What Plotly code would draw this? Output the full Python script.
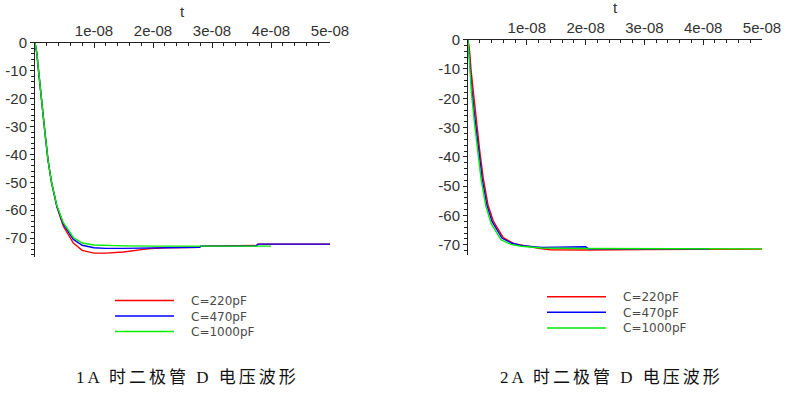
import plotly.graph_objects as go

W, H = 786, 394

# ---------------- data (time in ns, voltage in V) ----------------
# Panel 1: 1A
p1_red_t   = [0, 0.3, 0.6, 0.9, 1.2, 1.7, 2.2, 2.8, 3.7, 4.8, 6.5, 8, 10, 12, 15, 17, 19, 22, 25, 27.9, 28.1, 35, 37.5, 37.8, 45, 50]
p1_red_v   = [0, -3.5, -10, -15.5, -23, -32.5, -42, -50, -58.8, -65.8, -71.8, -74.4, -75.4, -75.4, -75.0, -74.4, -73.9, -73.5, -73.3, -73.3, -72.9, -72.8, -72.7, -72.2, -72.2, -72.2]
p1_blue_t  = [0, 0.3, 0.6, 0.9, 1.2, 1.7, 2.2, 2.8, 3.7, 4.8, 6.5, 8, 10, 12, 15, 19, 22, 27.9, 28.1, 37.5, 37.8, 50]
p1_blue_v  = [0, -3.5, -10, -15.5, -23, -32.5, -42, -50, -58.5, -65.0, -70.5, -72.6, -73.5, -73.7, -73.7, -73.5, -73.4, -73.3, -72.9, -72.8, -72.2, -72.2]
p1_green_t = [0, 0.3, 0.6, 0.9, 1.2, 1.7, 2.2, 2.8, 3.7, 4.8, 6.5, 8, 10, 12, 15, 20, 25, 30, 35, 40]
p1_green_v = [0, -3.5, -10, -15.5, -23, -32.5, -42, -50, -58.3, -64.5, -69.8, -71.8, -72.5, -72.7, -72.8, -72.9, -73.0, -72.9, -72.9, -72.9]

# Panel 2: 2A
p2_red_t   = [0, 0.25, 0.55, 0.9, 1.45, 2.0, 2.6, 3.4, 4.35, 6.0, 7.8, 9.4, 12, 14, 20, 30, 41, 50]
p2_red_v   = [0, -3.5, -11, -18, -28, -38, -47.3, -56.4, -62.1, -67.6, -69.6, -70.3, -71.2, -71.7, -71.8, -71.6, -71.5, -71.5]
p2_blue_t  = [0, 0.12, 0.4, 0.7, 1.25, 1.8, 2.4, 3.2, 4.1, 5.8, 7.5, 9.2, 12.6, 15, 20, 20.5, 30, 41]
p2_blue_v  = [0, -3, -11, -18, -28, -38, -47.3, -56.4, -62.1, -67.8, -69.5, -70.3, -70.9, -70.8, -70.7, -71.4, -71.4, -71.4]
p2_green_t = [0, 0.1, 0.35, 0.6, 1.1, 1.65, 2.25, 3.05, 3.95, 5.6, 7.3, 9, 12.5, 20, 30, 41, 50]
p2_green_v = [0, -3.5, -11.5, -18.5, -28.5, -38.5, -48, -57, -62.8, -68.3, -69.9, -70.5, -71.1, -71.3, -71.4, -71.4, -71.4]

x_tick_vals = [1e-8, 2e-8, 3e-8, 4e-8, 5e-8]
x_tick_text = ["1e-08", "2e-08", "3e-08", "4e-08", "5e-08"]
y_tick_vals = [0, -10, -20, -30, -40, -50, -60, -70]
y_tick_text = ["0", "-10", "-20", "-30", "-40", "-50", "-60", "-70"]

legend_labels = ["C=220pF", "C=470pF", "C=1000pF"]
series_colors = ["#ff0000", "#0000ff", "#00ee00"]
captions = ["1A 时二极管 D 电压波形", "2A 时二极管 D 电压波形"]
axis_title = "t"

# ---------------- helpers ----------------
def px(x):
    return x / W

def py(y):
    return 1 - y / H

ns = 1e-9
fig = go.Figure()

panels = [
    dict(series=[(p1_red_t, p1_red_v), (p1_blue_t, p1_blue_v), (p1_green_t, p1_green_v)],
         xdom=[px(35), px(330)], ydom=[py(257), py(42.8)], yrange=[-76.8, 0],
         legx=(115, 174, 190), legmid=316, capx=187, titlex=182.5, titley=12),
    dict(series=[(p2_red_t, p2_red_v), (p2_blue_t, p2_blue_v), (p2_green_t, p2_green_v)],
         xdom=[px(468), px(762)], ydom=[py(255), py(39.7)], yrange=[-73.5, 0],
         legx=(547, 606, 622), legmid=312.3, capx=611.5, titlex=615, titley=8),
]

font_tick = dict(family="Liberation Sans, Arial, sans-serif", size=15, color="#333333")
annotations = []
shapes = []
LEG_FS = 12
LEG_STEP = 1.3 * LEG_FS

for i, p in enumerate(panels):
    xa = "x" if i == 0 else "x2"
    ya = "y" if i == 0 else "y2"
    for (t, v), col, lab in zip(p["series"], series_colors, legend_labels):
        fig.add_trace(go.Scatter(x=[a * ns for a in t], y=v, mode="lines",
                                 line=dict(color=col, width=1.4), name=lab,
                                 xaxis=xa, yaxis=ya, showlegend=False, hoverinfo="skip"))
    axkey = "xaxis" if i == 0 else "xaxis2"
    aykey = "yaxis" if i == 0 else "yaxis2"
    fig.update_layout(**{
        axkey: dict(domain=p["xdom"], range=[0, 5e-8], anchor=ya, side="top",
                    showgrid=False, zeroline=False, showline=True, linecolor="#222", linewidth=1,
                    tickvals=x_tick_vals, ticktext=x_tick_text, ticks="inside", ticklen=5,
                    tickcolor="#222", tickfont=font_tick, automargin=False,
                    minor=dict(dtick=2e-9, tick0=0, ticks="inside", ticklen=3, tickcolor="#222")),
        aykey: dict(domain=p["ydom"], range=p["yrange"], anchor=xa, side="left",
                    showgrid=False, zeroline=False, showline=True, linecolor="#222", linewidth=1,
                    tickvals=y_tick_vals, ticktext=y_tick_text, ticks="outside", ticklen=4,
                    tickcolor="#222", tickfont=font_tick, automargin=False,
                    minor=dict(dtick=2, tick0=0, ticks="outside", ticklen=3, tickcolor="#222")),
    })
    annotations.append(dict(text=axis_title, x=px(p["titlex"]), y=py(p["titley"]), xref="paper", yref="paper",
                            showarrow=False, font=dict(family="Liberation Sans, Arial", size=15, color="#333"),
                            xanchor="center", yanchor="middle"))
    lx0, lx1, tx = p["legx"]
    for k, col in enumerate(series_colors):
        ly = p["legmid"] + (k - 1) * LEG_STEP
        shapes.append(dict(type="line", xref="paper", yref="paper", x0=px(lx0), x1=px(lx1),
                           y0=py(ly), y1=py(ly), line=dict(color=col, width=1.5)))
    annotations.append(dict(text="<br>".join(legend_labels), x=px(tx), y=py(p["legmid"]),
                            xref="paper", yref="paper", showarrow=False, align="left",
                            xanchor="left", yanchor="middle", borderpad=0,
                            font=dict(family="DejaVu Sans, Liberation Sans", size=LEG_FS, color="#4a4a4a")))
    annotations.append(dict(text='<span style="letter-spacing:3px">' + captions[i] + '</span>',
                            x=px(p["capx"]), y=py(377), xref="paper", yref="paper",
                            showarrow=False, xanchor="center", yanchor="middle",
                            font=dict(family="Liberation Serif, Noto Sans CJK SC, serif", size=17, color="#111")))

fig.update_layout(width=W, height=H, autosize=False, margin=dict(l=0, r=0, t=0, b=0, pad=0),
                  paper_bgcolor="white", plot_bgcolor="white", hovermode=False,
                  annotations=annotations, shapes=shapes, showlegend=False)

post = ("document.body.style.margin='0';document.body.style.padding='0';"
        "document.documentElement.style.overflow='hidden';document.body.style.overflow='hidden';"
        "var gd=document.getElementById('{plot_id}');"
        "Plotly.relayout(gd,{width:%d,height:%d});" % (W, H))

fig.write_html("out.html", config={"displayModeBar": False, "responsive": False},
               default_width="%dpx" % W, default_height="%dpx" % H, post_script=post)
